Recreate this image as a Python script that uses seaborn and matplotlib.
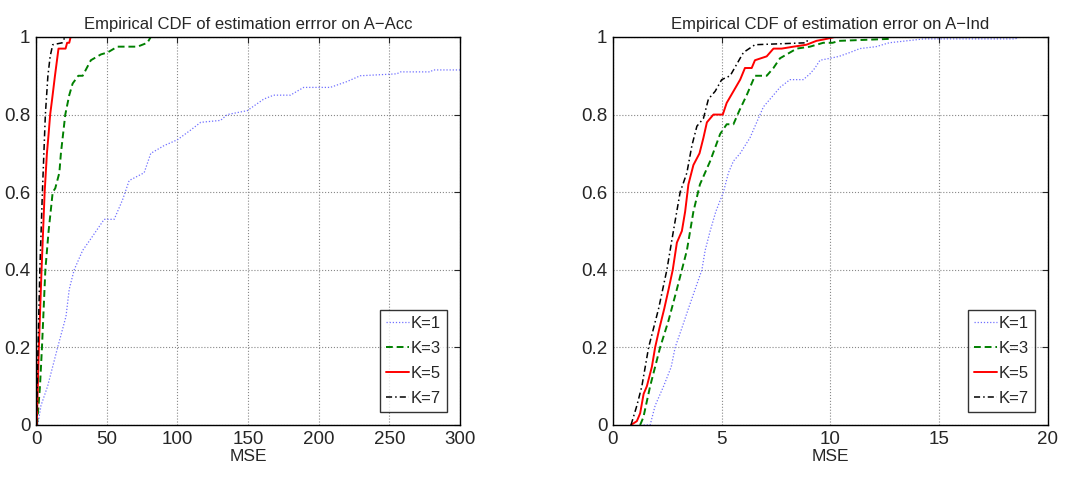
import pandas as pd
import matplotlib
matplotlib.use("Agg")
import matplotlib.pyplot as plt
import seaborn as sns

# values (MSE, cumulative fraction)
labels = ["K=1", "K=3", "K=5", "K=7"]

# A-Acc
acc_k1_x = [1.2, 3.5, 8.2, 15.3, 21.2, 23.5, 27, 33, 38.8, 48.2, 55.3, 61.2, 65.9, 76.5, 81.2, 90.6, 100,
            109.4, 116.5, 130.6, 135.3, 149.4, 161.2, 168.2, 180, 189.4, 208.2, 220, 229.4, 255.3, 258, 279, 281, 300]
acc_k1_y = [0, 0.05, 0.1, 0.2, 0.28, 0.35, 0.4, 0.45, 0.48, 0.53, 0.53, 0.58, 0.63, 0.65, 0.7, 0.72, 0.735,
            0.76, 0.78, 0.785, 0.8, 0.81, 0.84, 0.85, 0.85, 0.87, 0.87, 0.885, 0.9, 0.905, 0.91, 0.91, 0.915, 0.915]
acc_k3_x = [0.7, 2.8, 4.2, 6.6, 8.9, 11.8, 13.6, 16.5, 17.6, 20.7, 23.5, 25.9, 29.9, 33, 38.8, 45.9, 50.6,
            57.6, 71.8, 78.8, 81.2]
acc_k3_y = [0, 0.1, 0.2, 0.4, 0.5, 0.6, 0.61, 0.65, 0.7, 0.8, 0.85, 0.88, 0.9, 0.9, 0.94, 0.955, 0.96,
            0.975, 0.975, 0.985, 1.0]
acc_k5_x = [0.5, 2.0, 3.9, 6.1, 7.7, 8.9, 10.0, 11.4, 13.4, 15.9, 20.9, 22.0, 23.5, 24.5]
acc_k5_y = [0, 0.2, 0.4, 0.6, 0.7, 0.75, 0.8, 0.84, 0.9, 0.97, 0.97, 0.985, 0.985, 1.0]
acc_k7_x = [0.3, 1.4, 2.7, 4.5, 6.6, 8.4, 10.0, 11.8, 18.6, 20.5]
acc_k7_y = [0, 0.2, 0.4, 0.6, 0.8, 0.9, 0.95, 0.98, 0.985, 1.0]

# A-Ind
ind_k1_x = [1.41, 1.71, 1.94, 2.33, 2.68, 2.86, 3.17, 3.47, 3.78, 4.09, 4.24, 4.47, 4.73, 5.08, 5.31, 5.54,
            5.85, 6.3, 6.61, 6.92, 7.38, 7.68, 8.14, 8.75, 9.06, 9.29, 9.52, 9.98, 10.4, 10.9, 11.35, 12.1,
            12.7, 13.5, 14.3, 18.5, 18.7]
ind_k1_y = [0, 0, 0.05, 0.1, 0.15, 0.2, 0.25, 0.3, 0.35, 0.4, 0.45, 0.5, 0.55, 0.6, 0.65, 0.68,
            0.7, 0.74, 0.78, 0.82, 0.85, 0.87, 0.89, 0.89, 0.905, 0.92, 0.94, 0.945, 0.95, 0.96, 0.97, 0.975,
            0.985, 0.99, 0.995, 0.995, 1.0]
ind_k3_x = [1.25, 1.4, 1.71, 2.17, 2.56, 2.94, 3.4, 3.7, 4.0, 4.47, 4.93, 5.23, 5.54, 5.81, 6.15, 6.53,
            7.07, 7.38, 7.68, 8.45, 9.06, 9.67, 10.1, 10.4, 12.7, 12.8]
ind_k3_y = [0, 0.02, 0.1, 0.2, 0.27, 0.35, 0.45, 0.55, 0.62, 0.68, 0.75, 0.775, 0.775, 0.81, 0.85, 0.9,
            0.9, 0.92, 0.945, 0.97, 0.975, 0.985, 0.985, 0.99, 0.995, 1.0]
ind_k5_x = [0.83, 1.1, 1.25, 1.41, 1.56, 1.79, 1.94, 2.14, 2.36, 2.56, 2.75, 2.94, 3.17, 3.32, 3.47, 3.7,
            3.98, 4.16, 4.32, 4.62, 5.05, 5.23, 5.54, 5.85, 6.07, 6.38, 6.53, 7.07, 7.38, 7.76, 8.3, 8.9,
            9.36, 9.82, 10.2]
ind_k5_y = [0, 0.01, 0.03, 0.08, 0.1, 0.15, 0.2, 0.25, 0.3, 0.35, 0.4, 0.47, 0.5, 0.55, 0.62, 0.67,
            0.7, 0.74, 0.78, 0.8, 0.8, 0.83, 0.86, 0.89, 0.92, 0.92, 0.94, 0.95, 0.97, 0.97, 0.975, 0.98,
            0.99, 0.995, 1.0]
ind_k7_x = [0.83, 1.1, 1.33, 1.64, 2.1, 2.48, 2.78, 3.09, 3.4, 3.63, 3.86, 4.16, 4.39, 4.7, 5.0, 5.39,
            6.0, 6.53, 8.9, 9.0]
ind_k7_y = [0, 0.05, 0.1, 0.2, 0.3, 0.4, 0.5, 0.6, 0.65, 0.72, 0.77, 0.79, 0.84, 0.86, 0.89, 0.9,
            0.96, 0.98, 0.985, 1.0]


def to_frame(xs, ys):
    parts = []
    for lab, x, y in zip(labels, xs, ys):
        parts.append(pd.DataFrame({"MSE": x, "F": y, "K": lab}))
    return pd.concat(parts, ignore_index=True)


acc = to_frame([acc_k1_x, acc_k3_x, acc_k5_x, acc_k7_x], [acc_k1_y, acc_k3_y, acc_k5_y, acc_k7_y])
ind = to_frame([ind_k1_x, ind_k3_x, ind_k5_x, ind_k7_x], [ind_k1_y, ind_k3_y, ind_k5_y, ind_k7_y])

sns.set_style("white")
plt.rcParams["font.family"] = ["Liberation Sans", "DejaVu Sans"]

palette = {"K=1": "#7070ff", "K=3": "#008000", "K=5": "#ff0000", "K=7": "#000000"}
dashes = {"K=1": (1, 1.5), "K=3": (3.5, 2), "K=5": "", "K=7": (4, 2, 1, 2)}
widths = {"K=1": 0.9, "K=3": 1.4, "K=5": 1.4, "K=7": 1.1}

fig = plt.figure(figsize=(10.66, 4.8), dpi=100)
ax1 = fig.add_axes([0.0338, 0.1146, 0.3977, 0.8084])
ax2 = fig.add_axes([0.575, 0.1146, 0.408, 0.8084])

panels = [
    (ax1, acc, "Empirical CDF of estimation errror on A\u2212Acc", 300, [0, 50, 100, 150, 200, 250, 300]),
    (ax2, ind, "Empirical CDF of estimation error on A\u2212Ind", 20, [0, 5, 10, 15, 20]),
]

for ax, df, title, xmax, xticks in panels:
    for lab in labels:
        sub = df[df["K"] == lab]
        sns.lineplot(data=sub, x="MSE", y="F", ax=ax, color=palette[lab], estimator=None,
                     sort=False, linewidth=widths[lab], dashes=dashes[lab] if dashes[lab] else (None, None),
                     label=lab)
    ax.set_xlim(0, xmax)
    ax.set_ylim(0, 1)
    ax.set_xticks(xticks)
    ax.set_yticks([0, 0.2, 0.4, 0.6, 0.8, 1])
    ax.set_yticklabels(["0", "0.2", "0.4", "0.6", "0.8", "1"])
    ax.grid(True, color="#888888", linestyle=":", linewidth=0.8)
    ax.tick_params(direction="in", length=4, labelsize=13.5, top=True, right=True, pad=4)
    for s in ax.spines.values():
        s.set_color("black")
        s.set_linewidth(1.0)
    ax.set_title(title, fontsize=12, pad=6)
    ax.set_xlabel("MSE", fontsize=12.5, labelpad=1)
    ax.set_ylabel("")
    leg = ax.legend(loc="lower right", fontsize=12, frameon=True, fancybox=False,
                    handlelength=1.4, handletextpad=0.1, labelspacing=0.6,
                    borderpad=0.35, borderaxespad=0.8)
    leg.get_frame().set_edgecolor("black")
    leg.get_frame().set_linewidth(1.0)

fig.savefig("out.png", dpi=100)
